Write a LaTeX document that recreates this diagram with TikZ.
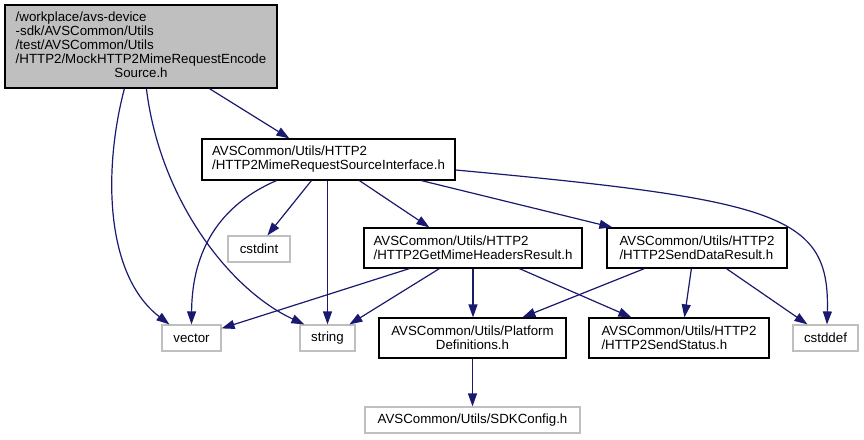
\documentclass[tikz,border=0pt]{standalone}
\usepackage{fontspec}
\setmainfont{Liberation Sans}
\usetikzlibrary{arrows.meta}
\definecolor{edgeblue}{HTML}{191970}
\definecolor{boxgrey}{HTML}{BFBFBF}
\begin{document}
\begin{tikzpicture}[x=1pt,y=-1pt,
  every node/.style={font=\fontsize{13.3}{14}\selectfont, inner sep=0pt, line width=1.2pt},
  filebox/.style={draw=black, rectangle},
  sysbox/.style={draw=boxgrey, rectangle},
  dep/.style={draw=edgeblue, line width=1.2pt, -{Triangle[length=13pt,width=9pt]}, fill=none}
]
\useasboundingbox (0,0) rectangle (864,439);
% nodes
\node[filebox, fill=boxgrey, minimum width=272pt, minimum height=83pt] (main) at (141,46.5)
  {\begin{tabular}{@{}l@{}}/workplace/avs-device\\-sdk/AVSCommon/Utils\\/test/AVSCommon/Utils\\/HTTP2/MockHTTP2MimeRequestEncode\\\multicolumn{1}{@{}c@{}}{Source.h}\end{tabular}};
\node[filebox, minimum width=253pt, minimum height=41pt, align=left] (iface) at (328.5,159.5)
  {AVSCommon/Utils/HTTP2\\/HTTP2MimeRequestSourceInterface.h};
\node[sysbox, minimum width=62pt, minimum height=26pt] (cstdint) at (259,249) {cstdint};
\node[filebox, minimum width=218pt, minimum height=40pt, align=left] (getmime) at (473,248)
  {AVSCommon/Utils/HTTP2\\/HTTP2GetMimeHeadersResult.h};
\node[filebox, minimum width=180pt, minimum height=40pt, align=left] (senddata) at (697,248)
  {AVSCommon/Utils/HTTP2\\/HTTP2SendDataResult.h};
\node[sysbox, minimum width=59pt, minimum height=26pt] (vector) at (191.5,338) {vector};
\node[sysbox, minimum width=55pt, minimum height=26pt] (string) at (327.5,338) {string};
\node[filebox, minimum width=187pt, minimum height=40pt, align=center] (platform) at (472.5,338)
  {AVSCommon/Utils/Platform\\Definitions.h};
\node[filebox, minimum width=180pt, minimum height=40pt, align=left] (sendstatus) at (679,338)
  {AVSCommon/Utils/HTTP2\\/HTTP2SendStatus.h};
\node[sysbox, minimum width=65pt, minimum height=26pt] (cstddef) at (825.5,338) {cstddef};
\node[sysbox, minimum width=215pt, minimum height=26pt] (sdkconfig) at (472.5,420) {AVSCommon/Utils/SDKConfig.h};
% edges
\draw[dep] ([xshift=205pt]main.south west) -- ([xshift=88pt]iface.north west);
\draw[dep] ([xshift=120pt]main.south west) .. controls (103,170) and (105,275) .. ([xshift=8pt]vector.north west);
\draw[dep] ([xshift=142pt]main.south west) .. controls (160,200) and (230,290) .. ([xshift=5pt]string.north west);
\draw[dep] ([xshift=75pt]iface.south west) .. controls (220,205) and (192,250) .. (vector.north);
\draw[dep] ([xshift=110pt]iface.south west) -- ([xshift=40pt]cstdint.north west);
\draw[dep] (string.north |- iface.south) -- (string.north);
\draw[dep] ([xshift=158pt]iface.south west) -- ([xshift=66pt]getmime.north west);
\draw[dep] ([xshift=220pt]iface.south west) -- ([xshift=6pt]senddata.north west);
\draw[dep] ([yshift=-10.5pt]iface.east) .. controls (780,200) and (830,215) .. ([xshift=1.5pt]cstddef.north);
\draw[dep] ([xshift=46pt]getmime.south west) -- ([yshift=-4pt]vector.north east);
\draw[dep] ([xshift=76pt]getmime.south west) -- ([xshift=50pt]string.north west);
\draw[dep] (getmime.south) -- (getmime.south |- platform.north);
\draw[dep] ([xshift=156pt]getmime.south west) -- ([xshift=43pt]sendstatus.north west);
\draw[dep] ([xshift=38pt]senddata.south west) -- ([xshift=144pt]platform.north west);
\draw[dep] ([xshift=85pt]senddata.south west) -- ([xshift=96pt]sendstatus.north west);
\draw[dep] ([xshift=120pt]senddata.south west) -- ([xshift=15pt]cstddef.north west);
\draw[dep] (platform.south) -- (platform.south |- sdkconfig.north);
\end{tikzpicture}
\end{document}
